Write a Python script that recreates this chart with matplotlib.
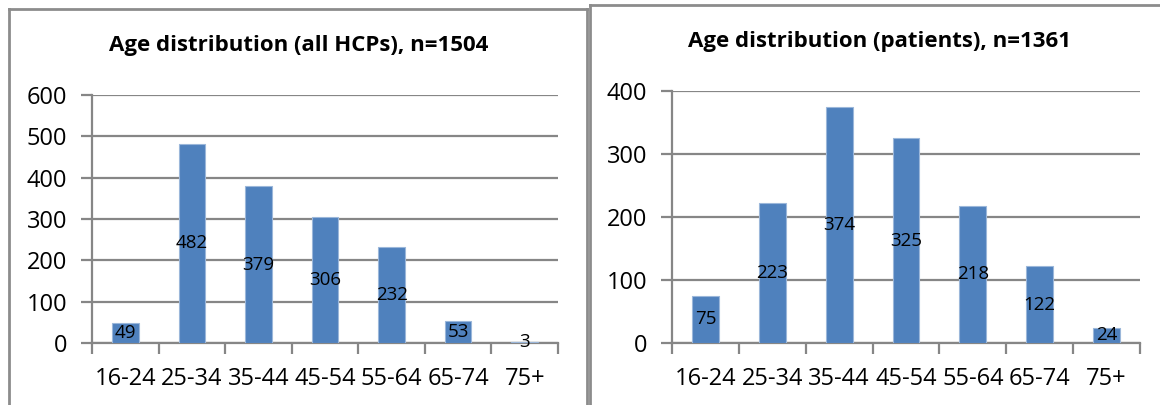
import matplotlib
matplotlib.use("Agg")
import matplotlib.pyplot as plt
from matplotlib.lines import Line2D

plt.rcParams["font.family"] = ["Open Sans", "DejaVu Sans"]

age_groups = ["16-24", "25-34", "35-44", "45-54", "55-64", "65-74", "75+"]
hcp_counts = [49, 482, 379, 306, 232, 53, 3]
patient_counts = [75, 223, 374, 325, 218, 122, 24]

hcp_title = "Age distribution (all HCPs), n=1504"
patient_title = "Age distribution (patients), n=1361"

W, H = 1160, 405
BAR = "#4F81BD"
GRID = "#868686"


def fx(px):
    return px / W


def fy(py):
    return 1 - py / H


def draw_panel(ax, counts, ymax, step):
    x = range(len(age_groups))
    ax.bar(x, counts, width=0.4, color=BAR, edgecolor="#9BB7DA", linewidth=0.8, zorder=3)
    for xi, v in zip(x, counts):
        ax.text(xi, v / 2, str(v), ha="center", va="center", fontsize=13.5, color="black", zorder=4)

    ax.set_xlim(-0.5, len(age_groups) - 0.5)
    ax.set_ylim(0, ymax)
    ax.set_yticks(range(0, ymax + 1, step))
    ax.yaxis.grid(True, color=GRID, linewidth=1.6, zorder=0)
    ax.tick_params(axis="y", length=8, width=1.6, color=GRID, pad=10, labelsize=17)

    ax.set_xticks(list(x))
    ax.set_xticklabels(age_groups)
    ax.set_xticks([i - 0.5 for i in range(len(age_groups) + 1)], minor=True)
    ax.tick_params(axis="x", which="major", length=0, pad=17, labelsize=17)
    ax.tick_params(axis="x", which="minor", length=8, width=1.6, color=GRID)

    for side in ("top", "right"):
        ax.spines[side].set_visible(False)
    for side in ("left", "bottom"):
        ax.spines[side].set_color(GRID)
        ax.spines[side].set_linewidth(1.6)
    ax.set_axisbelow(True)


fig = plt.figure(figsize=(W / 100, H / 100), dpi=100)
fig.patch.set_facecolor("white")

# chart frames
frame = dict(color="#8C8C8C", linewidth=2.0)
fig.add_artist(Line2D([fx(9), fx(9)], [fy(9), fy(420)], **frame))
fig.add_artist(Line2D([fx(9), fx(587)], [fy(9), fy(9)], **frame))
fig.add_artist(Line2D([fx(587), fx(587)], [fy(9), fy(420)], **frame))
fig.add_artist(Line2D([fx(590), fx(590)], [fy(5), fy(420)], **frame))
fig.add_artist(Line2D([fx(590), fx(1170)], [fy(5), fy(5)], **frame))

ax1 = fig.add_axes([fx(92), fy(343), fx(558 - 92), (343 - 95) / H])
draw_panel(ax1, hcp_counts, 600, 100)
fig.text(fx(299), fy(46), hcp_title, ha="center", va="center", fontsize=16, fontweight="bold")

ax2 = fig.add_axes([fx(672), fy(343), fx(1140 - 672), (343 - 91) / H])
draw_panel(ax2, patient_counts, 400, 100)
fig.text(fx(879), fy(42), patient_title, ha="center", va="center", fontsize=16, fontweight="bold")

fig.savefig("out.png", dpi=100)
